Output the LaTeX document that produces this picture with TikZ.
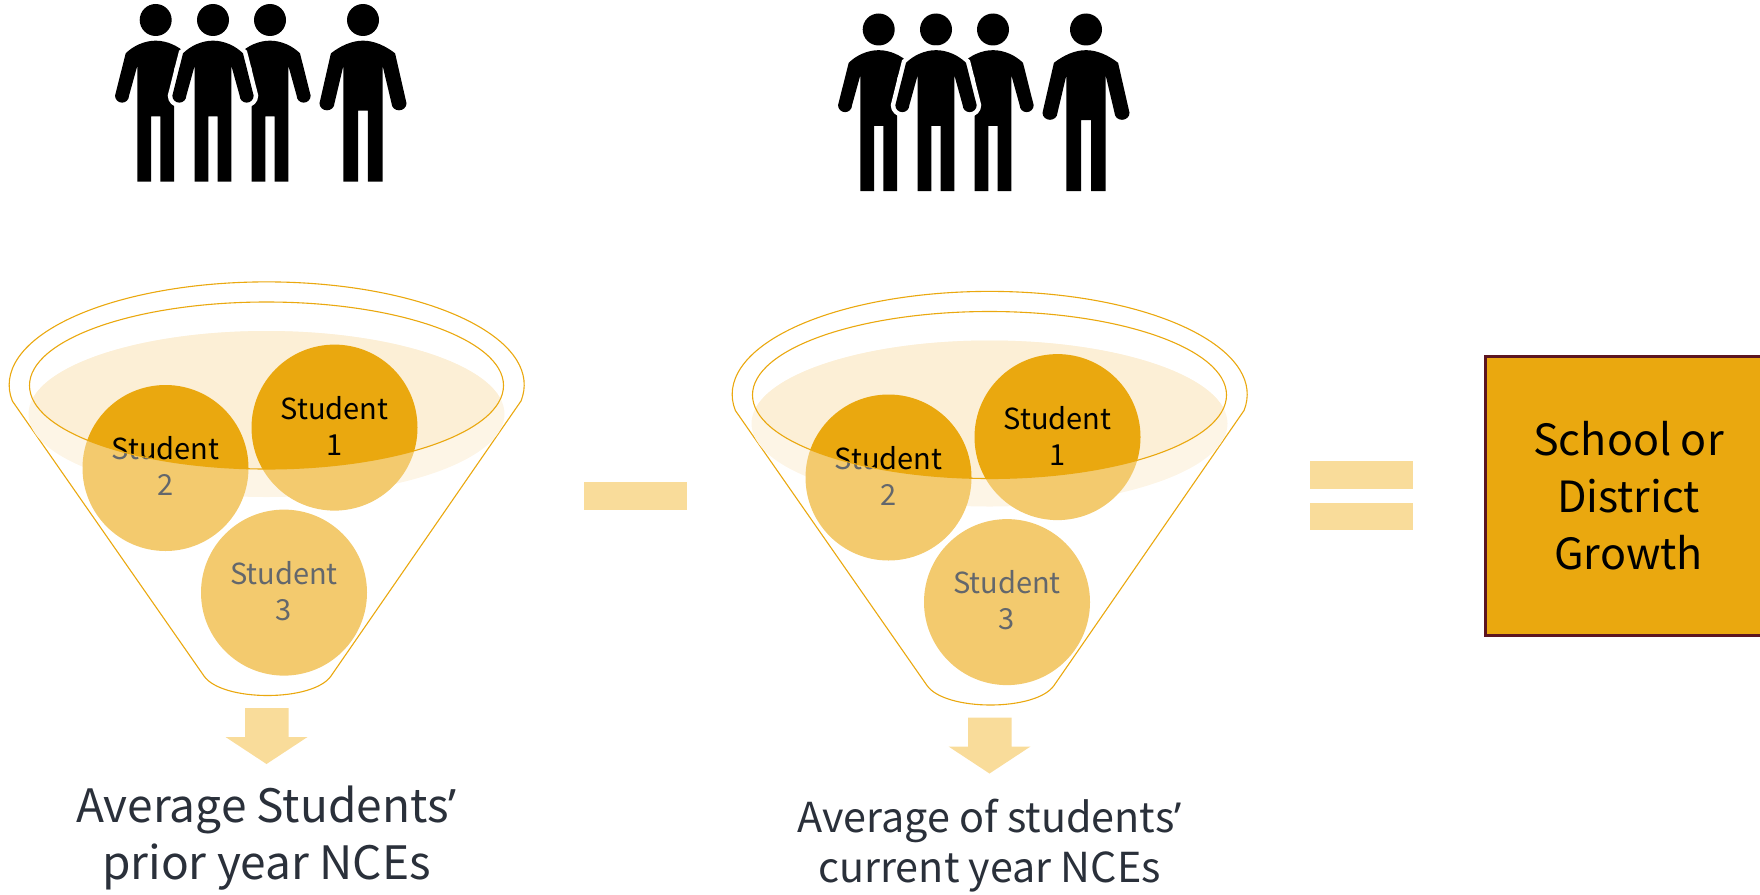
\documentclass[tikz,border=0pt]{standalone}
\usepackage{fontspec}
\setmainfont{Noto Sans CJK SC}[RawFeature=+palt]
\newfontfamily\quotefont{Noto Sans}
\definecolor{gold}{HTML}{EAA80F}
\definecolor{goldmid}{HTML}{F3CA6E}
\definecolor{goldpale}{HTML}{F9DC9A}
\definecolor{creamin}{HTML}{FCEFD6}
\definecolor{creamout}{HTML}{FDF5E6}
\definecolor{maroon}{HTML}{5C1520}
\definecolor{inkgrey}{HTML}{63676C}
\definecolor{inkdark}{HTML}{2A303A}
\tikzset{
  rimline/.style={draw=gold,line width=1.1pt},
  studenttxt/.style={align=center,inner sep=0pt,font=\fontsize{29}{36}\selectfont},
  captxt/.style={align=center,inner sep=0pt,text=inkdark},
  signbar/.style={fill=goldpale},
  halo/.style={preaction={draw=white,line width=9pt}},
}
% one standing figure: x, y of its centre line, width factor, arm end, crotch height
\newcommand{\personfig}[6][]{
  \begin{scope}[shift={(#2,#3)},x=0.3333pt,y=-0.3333pt]
  \fill[black](0,60)circle[radius=48];
  \path[fill=black,#1](0,122)..controls(34,122)and(68,138)..(90*#4,160)
    --(122*#4,#5-25)arc[start angle=0,end angle=180,x radius=21*#4,y radius=21]
    --(55*#4,197)--(55*#4,545)--(14*#4,545)--(14*#4,#6)--(-14*#4,#6)--(-14*#4,545)
    --(-55*#4,545)--(-55*#4,197)--(-80*#4,#5-25)
    arc[start angle=0,end angle=180,x radius=21*#4,y radius=21]
    --(-90*#4,160)..controls(-68,138)and(-34,122)..cycle;
  \end{scope}
}
% group of four figures
\newcommand{\crowdfig}{
  \personfig{155.7}{0}{1}{312}{349}
  \personfig{270}{0}{1}{312}{349}
  \fill[white](186,72)rectangle(240,107);
  \personfig[halo]{213}{0}{1}{312}{349}
  \personfig{363}{0}{1.07}{335}{332}
}
% funnel with its three circles
\newcommand{\funnelfig}{
  \draw[rimline](521,401)arc[start angle=9,end angle=-189,x radius=257.5,y radius=103]
    --(204,676)..controls(222,702)and(313,702)..(331,676)--cycle;
  \fill[creamout](266.5,414)ellipse[x radius=238,y radius=83];
  \fill[goldmid](334.5,427.6)circle[radius=83];
  \fill[goldmid](165.5,468)circle[radius=83];
  \fill[goldmid](284,592.6)circle[radius=83];
  \node[studenttxt,text=inkgrey](s1)at(334.5,426){Student\\1};
  \node[studenttxt,text=inkgrey](s2)at(165.5,466.4){Student\\2};
  \node[studenttxt,text=inkgrey](s3)at(284,591){Student\\3};
  \begin{scope}
  \clip(266.5,385.5)ellipse[x radius=237,y radius=83.5];
  \fill[creamin](266.5,414)ellipse[x radius=238,y radius=83];
  \fill[gold](334.5,427.6)circle[radius=83];
  \fill[gold](165.5,468)circle[radius=83];
  \node[studenttxt,text=black](t1)at(334.5,426){Student\\1};
  \node[studenttxt,text=black](t2)at(165.5,466.4){Student\\2};
  \end{scope}
  \draw[rimline](266.5,385.5)ellipse[x radius=237,y radius=83.5];
  \fill[goldpale](245,708)--(288.5,708)--(288.5,737)--(307.5,737)--(266.5,764)--(225.5,737)--(245,737)--cycle;
}
\begin{document}
\begin{tikzpicture}[x=1pt,y=-1pt]
\useasboundingbox(0,0)rectangle(1760,894);
\crowdfig
\begin{scope}[shift={(723,9.5)}]\crowdfig\end{scope}
\funnelfig
\begin{scope}[shift={(723,9.5)}]\funnelfig\end{scope}
\node[captxt,font=\fontsize{46}{57}\selectfont](prior)at(266.5,838){Average Students{\quotefont ’}\\prior year NCEs};
\node[captxt,font=\fontsize{41.3}{50}\selectfont](current)at(989.5,846){Average of students{\quotefont ’}\\current year NCEs};
\fill[signbar](583.5,481.5)rectangle(687,509.5);
\fill[signbar](1310,460.5)rectangle(1413,489);
\fill[signbar](1310,502.5)rectangle(1413,530);
\fill[gold](1485,356)rectangle(1760,635);
\draw[maroon,line width=3pt](1760,356)--(1485,356)--(1485,635)--(1760,635);
\node[align=center,inner sep=0pt,font=\fontsize{43}{57}\selectfont](growth)at(1628.5,495.5){School or\\District\\Growth};
\end{tikzpicture}
\end{document}
